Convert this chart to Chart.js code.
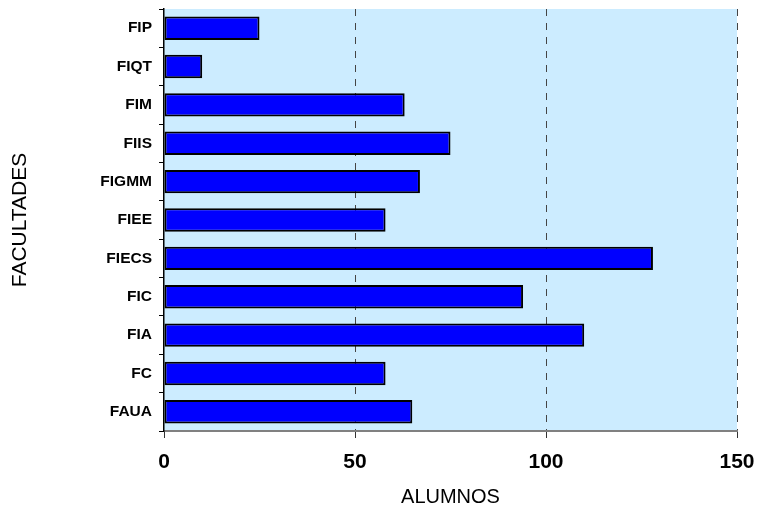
<!DOCTYPE html>
<html>
<head>
<meta charset="utf-8">
<script src="https://cdn.jsdelivr.net/npm/chart.js@4/dist/chart.umd.min.js"></script>
<style>
  html, body { margin: 0; padding: 0; background: #fff; }
  #wrap { width: 758px; height: 513px; }
</style>
</head>
<body>
<div id="wrap"><canvas id="chart-alumnos" width="758" height="513"></canvas></div>
<script>
// datos
const facultades = ["FIP", "FIQT", "FIM", "FIIS", "FIGMM", "FIEE", "FIECS", "FIC", "FIA", "FC", "FAUA"];
const alumnos = [25, 10, 63, 75, 67, 58, 128, 94, 110, 58, 65];
const xTicks = [0, 50, 100, 150];

const fontFamily = "'Liberation Sans', Arial, sans-serif";

// fondo celeste del area de trazado
const plotBg = {
  id: "plotBg",
  beforeDraw(chart) {
    const { ctx, chartArea } = chart;
    ctx.save();
    ctx.fillStyle = "#CCECFF";
    ctx.fillRect(chartArea.left, chartArea.top, chartArea.right - chartArea.left, chartArea.bottom - chartArea.top);
    ctx.restore();
  }
};

const ctx = document.getElementById("chart-alumnos").getContext("2d");

new Chart(ctx, {
  type: "bar",
  data: {
    labels: facultades,
    datasets: [
      {
        label: "Alumnos",
        data: alumnos,
        backgroundColor: "#0000FF",
        borderColor: "#000000",
        borderWidth: 2,
        borderSkipped: false,
        categoryPercentage: 1,
        barPercentage: 0.61
      }
    ]
  },
  plugins: [plotBg],
  options: {
    indexAxis: "y",
    responsive: false,
    animation: false,
    layout: { padding: { top: 9, right: 21, left: 0, bottom: 0 } },
    plugins: {
      legend: { display: false },
      tooltip: { enabled: false }
    },
    scales: {
      x: {
        min: 0,
        max: 150,
        afterBuildTicks(scale) {
          scale.ticks = xTicks.map(v => ({ value: v }));
        },
        afterFit(scale) {
          scale.height = 82;
          scale.paddingLeft = 0;
          scale.paddingRight = 0;
        },
        border: { display: true, color: "#808080", width: 2, dash: [7, 7] },
        grid: {
          color: c => (c.tick && c.tick.value === 0 ? "rgba(0,0,0,0)" : "#444444"),
          lineWidth: 1,
          tickLength: 7,
          tickColor: "#333333",
          tickWidth: 1
        },
        ticks: {
          color: "#000",
          padding: 12,
          font: { family: fontFamily, size: 21, weight: "bold" }
        },
        title: {
          display: true,
          text: "ALUMNOS",
          color: "#000",
          padding: { top: 0, bottom: 4 },
          font: { family: fontFamily, size: 20 }
        }
      },
      y: {
        afterFit(scale) {
          scale.width = 164;
          scale.paddingTop = 0;
          scale.paddingBottom = 0;
        },
        border: { display: true, color: "#000", width: 1.5 },
        grid: {
          drawOnChartArea: false,
          drawTicks: true,
          tickLength: 5,
          color: "#000",
          lineWidth: 1
        },
        ticks: {
          color: "#000",
          padding: 7,
          font: { family: fontFamily, size: 15.5, weight: "bold" }
        },
        title: {
          display: true,
          text: "FACULTADES",
          color: "#000",
          padding: { top: 8, bottom: 0 },
          font: { family: fontFamily, size: 21 }
        }
      }
    }
  }
});
</script>
</body>
</html>
